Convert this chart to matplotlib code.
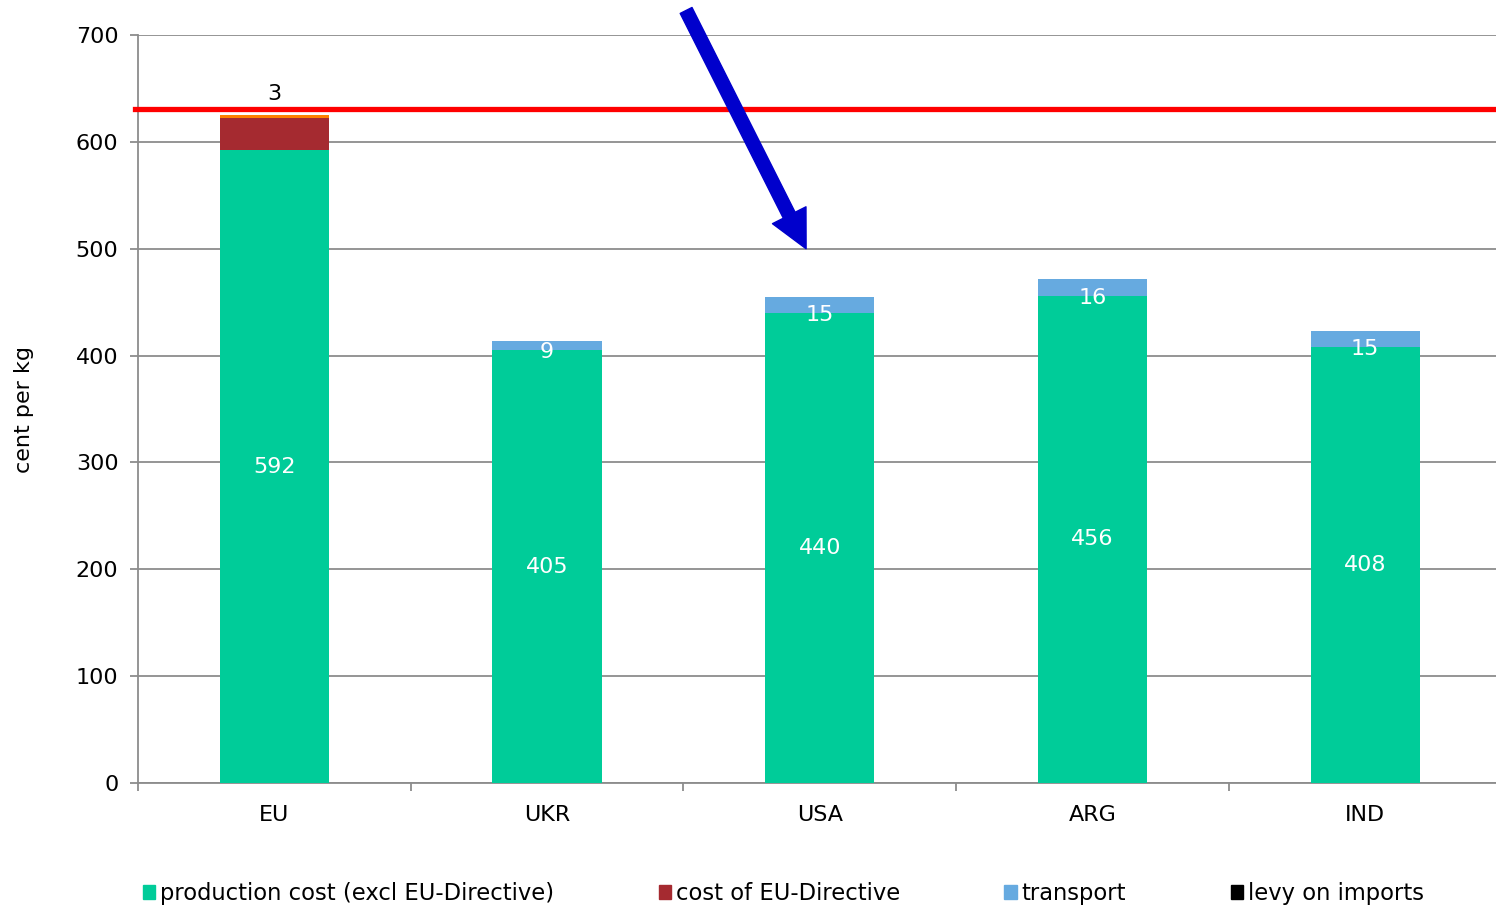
"""
Cost comparison: production cost, EU-Directive cost and transport per origin
"""

import numpy as np
import matplotlib.pyplot as plt
from matplotlib.patches import Patch

plt.rcParams['font.family'] = 'DejaVu Sans'

# Data
countries = ['EU', 'UKR', 'USA', 'ARG', 'IND']
production = [592, 405, 440, 456, 408]
eu_directive = [30, 0, 0, 0, 0]
other_eu = [3, 0, 0, 0, 0]
transport = [0, 9, 15, 16, 15]
levy = [0, 0, 0, 0, 0]
eu_price_line = 631

# arrow (data coords): tail -> head
arrow_tail = (1.51, 723)
arrow_head = (1.95, 500)

c_prod = '#00cc99'
c_dir = '#a52a30'
c_other = '#ff8000'
c_trans = '#66aae0'
c_levy = '#000000'
c_grid = '#8c8c8c'

FS = 16

fig = plt.figure(figsize=(14.96, 9.05), dpi=100)
ax = fig.add_axes([0.0922, 0.1348, 0.9115, 0.8265])

x = np.arange(len(countries))
w = 0.4
prod = np.array(production)
dire = np.array(eu_directive)
oth = np.array(other_eu)
tra = np.array(transport)

ax.bar(x, prod, w, color=c_prod, zorder=3)
ax.bar(x, dire, w, bottom=prod, color=c_dir, zorder=3)
ax.bar(x, oth, w, bottom=prod + dire, color=c_other, zorder=3)
ax.bar(x, tra, w, bottom=prod + dire + oth, color=c_trans, zorder=3)

# labels
for i in range(len(countries)):
    ax.text(x[i], prod[i] / 2, str(prod[i]), ha='center', va='center',
            color='white', fontsize=FS, zorder=5)
    if tra[i] > 0:
        ax.text(x[i], prod[i] - 2, str(tra[i]), ha='center', va='center',
                color='white', fontsize=FS, zorder=5)
    if oth[i] > 0:
        ax.text(x[i], prod[i] + dire[i] + oth[i] + 20, str(oth[i]), ha='center',
                va='center', color='black', fontsize=FS, zorder=5)

ax.axhline(eu_price_line, color='#ff0000', linewidth=3.8, zorder=4,
           xmin=-0.002, clip_on=False)

ax.annotate('', xy=arrow_head, xytext=arrow_tail, annotation_clip=False,
            arrowprops=dict(facecolor='#0000cc', edgecolor='#0000cc',
                            width=9.5, headwidth=27, headlength=27, shrink=0),
            zorder=6)

ax.set_xlim(-0.5, 4.5)
ax.set_ylim(0, 700)
ax.set_yticks(range(0, 701, 100))
ax.set_xticks(x)
ax.set_xticklabels(countries, fontsize=FS)
ax.set_xticks(np.arange(-0.5, 4.6, 1), minor=True)
ax.tick_params(axis='x', which='major', length=0, pad=16)
ax.tick_params(axis='x', which='minor', length=6, width=1.3, color=c_grid)
ax.tick_params(axis='y', length=6, width=1.3, color=c_grid, labelsize=FS, pad=8)
ax.grid(axis='y', color=c_grid, linewidth=1.3, zorder=0)
ax.set_axisbelow(True)
for s in ['top', 'right']:
    ax.spines[s].set_visible(False)
for s in ['left', 'bottom']:
    ax.spines[s].set_color(c_grid)
    ax.spines[s].set_linewidth(1.3)

ax.set_ylabel('cent per kg', fontsize=FS, labelpad=30)

handles = [Patch(color=c_prod), Patch(color=c_dir), Patch(color=c_trans), Patch(color=c_levy)]
labels = ['production cost (excl EU-Directive)', 'cost of EU-Directive', 'transport', 'levy on imports']
fig.legend(handles, labels, loc='center left', bbox_to_anchor=(0.0895, 0.0125),
           ncol=4, frameon=False, fontsize=16.3, handlelength=0.55, handleheight=0.55,
           handletextpad=0.2, columnspacing=4.62, borderaxespad=0)

fig.savefig('out.png', dpi=100)
